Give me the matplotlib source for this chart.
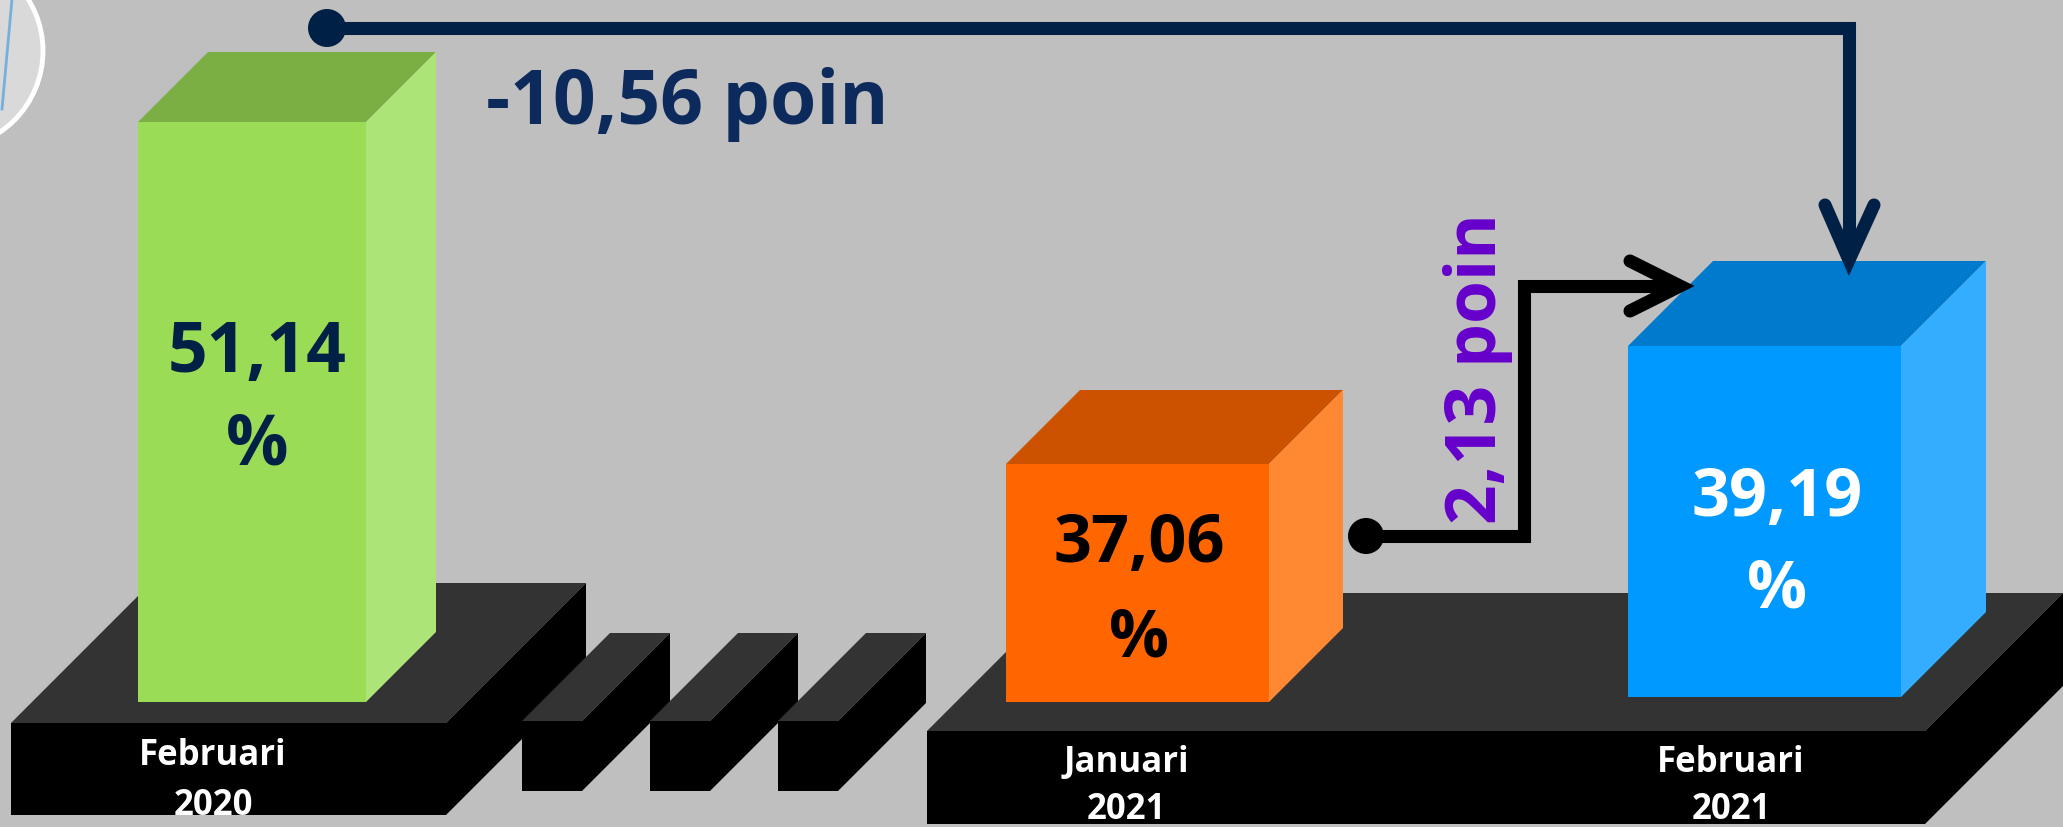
import matplotlib
matplotlib.use('Agg')
import matplotlib.pyplot as plt
from matplotlib.patches import Polygon, Rectangle, Circle

plt.rcParams['font.family'] = ['Open Sans', 'DejaVu Sans']

# data
periods = ['Februari\n2020', 'Januari\n2021', 'Februari\n2021']
values = [51.14, 37.06, 39.19]
change_yoy = -10.56
change_mom = 2.13

# layout (pixel space, y down)
W, H = 2063, 828
bg = '#BFBFBF'
bar_geom = [  # x, top, width, height, depth
    (138, 123, 228, 580, 70),
    (1006, 465, 263, 238, 74),
    (1628, 347, 273, 351, 85),
]
bar_cols = [
    ('#9BDC57', '#7BAF44', '#ADE477'),
    ('#FF6600', '#CC5200', '#FF8833'),
    ('#0099FF', '#007ACC', '#33ADFF'),
]
val_cols = ['#012046', '#000000', '#FFFFFF']
label_x = [213, 1126, 1731]


def fmt(v):
    return ('%.2f' % v).replace('.', ',')


def box(ax, x, top, w, h, d, front, topc, side, z=2):
    ax.add_patch(Polygon([(x, top), (x + w, top), (x + w + d, top - d), (x + d, top - d)],
                         closed=True, fc=topc, ec='none', zorder=z))
    ax.add_patch(Polygon([(x + w, top), (x + w + d, top - d), (x + w + d, top - d + h), (x + w, top + h)],
                         closed=True, fc=side, ec='none', zorder=z))
    r = Rectangle((x, top), w, h, fc=front, ec='none', zorder=z)
    ax.add_patch(r)
    return r


fig = plt.figure(figsize=(W / 100, H / 100), dpi=100)
fig.patch.set_facecolor(bg)
ax = fig.add_axes([0, 0, 1, 1])
ax.set_xlim(0, W)
ax.set_ylim(H, 0)
ax.axis('off')

# decorative circle top-left
ax.add_patch(Circle((-55, 52), 98, fc='#D9D9D9', ec='white', lw=3.5, zorder=1))
ax.plot([12, 2], [0, 110], color='#5AA8DD', lw=2, alpha=0.8, zorder=1)

# platforms
left_front = box(ax, 11, 724, 435, 92, 140, '#000000', '#333333', '#000000', z=1)
for bx in [522, 650, 778]:
    box(ax, bx, 722, 60, 70, 88, '#000000', '#333333', '#000000', z=1.5)
right_front = box(ax, 927, 732, 998, 93, 138, '#000000', '#333333', '#000000', z=1)

# bars
for (x, top, w, h, d), cols in zip(bar_geom, bar_cols):
    box(ax, x, top, w, h, d, *cols, z=3)

# value labels
val_pos = [(257, 372, 465, 50), (1139, 562, 657, 48), (1777, 516, 608, 48)]
for v, (cx, y1, y2, fs), c in zip(values, val_pos, val_cols):
    ax.text(cx, y1, fmt(v), ha='center', va='baseline', fontsize=fs, fontweight='bold', color=c, zorder=5)
    ax.text(cx, y2, '%', ha='center', va='baseline', fontsize=fs, fontweight='bold', color=c, zorder=5)

# period labels
lab_base = [(765, 815), (772, 819), (772, 819)]
clips = [left_front, right_front, right_front]
for lab, cx, (b1, b2), cp in zip(periods, label_x, lab_base, clips):
    l1, l2 = lab.split('\n')
    for s, b in [(l1, b1), (l2, b2)]:
        t = ax.text(cx, b, s, ha='center', va='baseline', fontsize=25, fontweight='bold',
                    color='white', zorder=5)
        t.set_clip_path(cp)

# year-on-year arrow
navy = '#012046'
lw = 9.4
ax.plot([327, 1849, 1849], [29, 29, 258], color=navy, lw=lw, solid_joinstyle='miter',
        solid_capstyle='butt', zorder=4)
ax.plot([1825, 1849, 1874], [206, 261, 206], color=navy, lw=lw, solid_joinstyle='miter',
        solid_capstyle='round', zorder=4)
ax.add_patch(Circle((327, 29), 19, fc=navy, ec='none', zorder=4))
ax.text(687, 124, fmt(change_yoy) + ' poin', ha='center', va='baseline', fontsize=54,
        fontweight='bold', color='#0D2A5C', zorder=5)

# month-on-month arrow
ax.plot([1366, 1524, 1524, 1676], [537, 537, 287, 287], color='black', lw=lw,
        solid_joinstyle='miter', solid_capstyle='butt', zorder=4)
ax.plot([1630, 1680, 1630], [262, 287, 312], color='black', lw=lw, solid_joinstyle='miter',
        solid_capstyle='round', zorder=4)
ax.add_patch(Circle((1366, 537), 18, fc='black', ec='none', zorder=4))
ax.text(1478, 369, fmt(change_mom) + ' poin', ha='center', va='center', rotation=90,
        fontsize=50, fontweight='bold', color='#6600CC', zorder=5)

fig.savefig('out.png', dpi=100, facecolor=bg)
